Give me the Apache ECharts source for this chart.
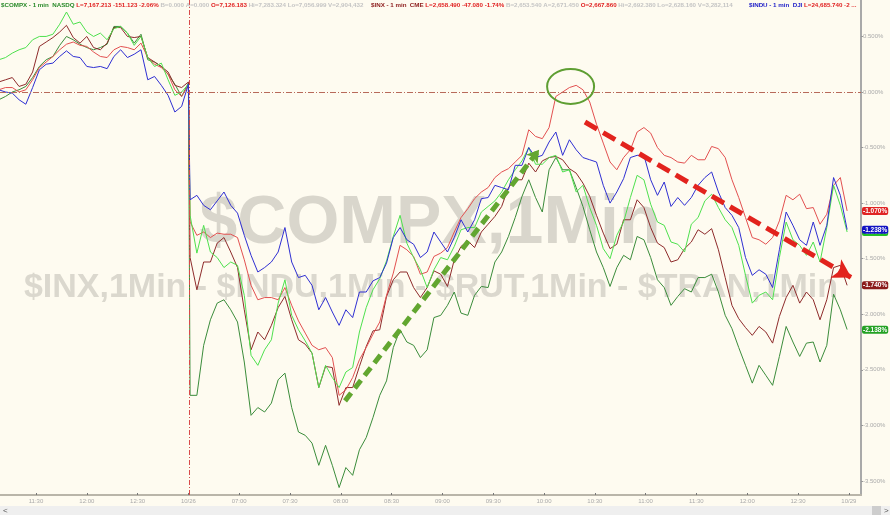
<!DOCTYPE html>
<html><head><meta charset="utf-8">
<script src="https://cdn.jsdelivr.net/npm/echarts@6/dist/echarts.min.js"></script>
<style>html,body{margin:0;padding:0;background:#fefbf0;} #c{width:890px;height:515px;}</style>
</head><body><div id="c"></div>
<script>
// x positions are minutes on a compressed intraday axis; ticks every 30 minutes
const tickMinutes = [30,60,90,120,150,180,210,240,270,300,330,360,390,420,450,480,510];
const tickLabels = ['11:30','12:00','12:30','10/26','07:00','07:30','08:00','08:30','09:00','09:30','10:00','10:30','11:00','11:30','12:00','12:30','10/29'];
const yTicks = [0.5,0,-0.5,-1,-1.5,-2,-2.5,-3,-3.5];
const preStart = 8, postStart = 121, stepMin = 4;
const sessionBreak = 120.4;

// % change, prior session (every 4 min)
const blueSession1 = [0.02,0.00,-0.01,-0.07,-0.11,0.04,0.20,0.25,0.26,0.32,0.37,0.32,0.31,0.23,0.22,0.23,0.21,0.32,0.38,0.31,0.34,0.38,0.11,0.14,0.06,-0.03,-0.18,-0.13,0.07];
const redSession1 = [0.02,0.04,0.04,0.00,0.02,0.11,0.22,0.27,0.32,0.38,0.43,0.45,0.42,0.41,0.36,0.32,0.31,0.38,0.41,0.40,0.38,0.44,0.31,0.25,0.22,0.16,0.02,-0.04,0.06];
const darkRedSession1 = [0.09,0.11,0.13,0.05,0.07,0.18,0.41,0.45,0.49,0.54,0.60,0.49,0.44,0.50,0.40,0.38,0.44,0.58,0.58,0.50,0.49,0.50,0.31,0.27,0.23,0.18,0.06,0.04,0.09];
const lightGreenSession1 = [0.29,0.31,0.35,0.38,0.40,0.47,0.50,0.50,0.52,0.61,0.72,0.61,0.63,0.54,0.50,0.53,0.47,0.57,0.59,0.53,0.42,0.50,0.31,0.23,0.26,0.11,-0.03,0.00,0.07];
const darkGreenSession1 = [-0.07,-0.04,0.00,0.02,0.05,0.13,0.23,0.29,0.32,0.42,0.50,0.47,0.43,0.40,0.38,0.40,0.43,0.59,0.59,0.53,0.44,0.52,0.29,0.27,0.23,0.16,0.07,-0.04,0.08];

// % change, current session (every 4 min)
const blueSession2 = [-0.97,-0.93,-1.02,-1.06,-0.98,-0.90,-1.02,-1.09,-1.29,-1.47,
-1.62,-1.58,-1.53,-1.44,-1.22,-1.53,-1.67,-1.65,-1.74,-1.96,
-1.85,-1.98,-2.10,-1.96,-2.03,-1.80,-1.80,-1.70,-1.67,-1.54,
-1.31,-1.22,-1.33,-1.37,-1.49,-1.44,-1.26,-1.35,-1.44,-1.31,
-1.15,-1.26,-1.15,-0.96,-0.95,-0.84,-0.86,-0.88,-0.66,-0.66,
-0.50,-0.59,-0.57,-0.45,-0.36,-0.57,-0.43,-0.52,-0.59,-0.61,
-0.63,-0.84,-1.00,-0.90,-0.78,-0.59,-0.57,-0.57,-0.79,-0.93,
-0.81,-1.03,-0.95,-1.02,-0.95,-0.84,-0.77,-0.72,-0.90,-1.04,
-1.11,-1.22,-1.49,-1.65,-1.60,-1.64,-1.76,-1.42,-1.08,-1.20,
-1.33,-1.38,-1.17,-1.38,-1.20,-0.77,-0.93,-1.238];
const redSession2 = [-1.17,-1.29,-1.26,-1.31,-1.27,-1.28,-1.28,-1.31,-1.51,-1.74,
-1.87,-1.85,-1.85,-1.87,-1.76,-1.92,-2.06,-2.17,-2.28,-2.32,
-2.30,-2.39,-2.73,-2.68,-2.57,-2.41,-2.30,-2.18,-2.07,-1.83,
-1.63,-1.38,-1.42,-1.48,-1.64,-1.62,-1.48,-1.45,-1.40,-1.26,
-1.13,-1.05,-0.96,-0.90,-0.86,-0.77,-0.72,-0.69,-0.63,-0.57,
-0.34,-0.40,-0.42,-0.32,-0.04,0.00,0.04,0.06,0.02,-0.09,
-0.29,-0.46,-0.63,-0.70,-0.59,-0.52,-0.36,-0.32,-0.37,-0.50,
-0.57,-0.59,-0.63,-0.64,-0.57,-0.61,-0.61,-0.49,-0.51,-0.59,
-0.79,-0.95,-1.13,-1.31,-1.33,-1.37,-1.31,-1.16,-0.93,-0.97,
-0.92,-1.05,-1.04,-1.19,-1.10,-0.84,-0.77,-1.070];
const darkRedSession2 = [-1.49,-1.78,-1.53,-1.53,-1.36,-1.31,-1.44,-1.58,-1.96,-2.32,
-2.16,-2.23,-2.10,-1.94,-1.84,-2.05,-2.23,-2.27,-2.35,-2.66,
-2.47,-2.48,-2.82,-2.66,-2.66,-2.47,-2.29,-2.15,-2.14,-1.84,
-1.69,-1.62,-1.62,-1.76,-1.85,-1.76,-1.61,-1.64,-1.75,-1.51,
-1.39,-1.34,-1.40,-1.26,-1.19,-1.12,-1.03,-0.86,-0.79,-0.79,
-0.64,-0.72,-0.62,-0.59,-0.58,-0.61,-0.69,-0.73,-0.82,-0.94,
-1.11,-1.27,-1.41,-1.37,-1.15,-1.15,-0.97,-1.04,-1.22,-1.36,
-1.40,-1.53,-1.51,-1.41,-1.35,-1.24,-1.28,-1.23,-1.42,-1.67,
-1.92,-2.04,-2.12,-2.19,-2.11,-2.16,-2.26,-2.02,-1.85,-1.74,
-1.90,-1.80,-1.87,-2.05,-1.87,-1.58,-1.56,-1.740];
const lightGreenSession2 = [-1.11,-1.45,-1.20,-1.44,-1.49,-1.58,-1.53,-1.56,-1.83,-2.37,
-2.46,-2.32,-2.23,-1.90,-1.69,-2.01,-2.14,-2.24,-2.35,-2.66,
-2.46,-2.57,-2.66,-2.52,-2.48,-2.16,-1.94,-1.78,-1.68,-1.52,
-1.30,-1.11,-1.36,-1.49,-1.60,-1.76,-1.60,-1.49,-1.51,-1.39,
-1.24,-1.22,-1.22,-1.08,-1.03,-0.98,-0.90,-0.79,-0.70,-0.62,
-0.50,-0.65,-0.65,-0.59,-0.57,-0.72,-0.70,-0.90,-0.84,-1.04,
-1.20,-1.41,-1.50,-1.29,-1.17,-0.95,-0.75,-0.79,-1.01,-1.17,
-1.20,-1.35,-1.37,-1.44,-1.19,-1.13,-0.98,-0.92,-1.04,-1.15,
-1.22,-1.38,-1.65,-1.90,-1.83,-1.80,-1.87,-1.49,-1.17,-1.33,
-1.38,-1.47,-1.35,-1.53,-1.22,-0.84,-1.02,-1.26];
const darkGreenSession2 = [-2.73,-2.73,-2.28,-2.05,-1.90,-1.87,-1.96,-2.07,-2.43,-2.91,
-2.84,-2.88,-2.80,-2.59,-2.53,-2.84,-3.06,-3.09,-3.16,-3.36,
-3.18,-3.36,-3.56,-3.38,-3.45,-3.22,-3.11,-2.93,-2.73,-2.60,
-2.30,-2.14,-2.25,-2.28,-2.39,-2.32,-2.03,-2.01,-1.92,-1.80,
-1.99,-2.01,-1.83,-1.75,-1.76,-1.53,-1.44,-1.30,-1.13,-0.94,
-0.79,-0.95,-1.08,-0.70,-0.59,-0.70,-0.70,-0.86,-1.03,-1.24,
-1.44,-1.58,-1.75,-1.58,-1.47,-1.51,-1.30,-1.33,-1.49,-1.69,
-1.76,-1.92,-1.84,-1.77,-1.80,-1.67,-1.67,-1.64,-1.80,-2.01,
-2.13,-2.30,-2.46,-2.62,-2.46,-2.55,-2.64,-2.38,-2.11,-2.25,
-2.38,-2.26,-2.25,-2.43,-2.28,-1.82,-1.96,-2.138];

// annotation anchors (minute, %)
const greenArrow = [[212.5,-2.78],[327.1,-0.52]];
const redArrow = [[354.2,-0.27],[511.5,-1.67]];
const peakCircle = [345.7, 0.05];

const FONT = 'Arial, "Liberation Sans", sans-serif';
function toPairs(pre, post){
  return pre.map((v,i)=>[preStart+i*stepMin, v]).concat(post.map((v,i)=>[postStart+i*stepMin, v]));
}
function endLabel(vals, bg){
  const last = vals[vals.length-1];
  return {yAxis:last, lineStyle:{color:'rgba(0,0,0,0)', width:0, type:'solid'},
    label:{show:true, position:'end', distance:1, formatter: last.toFixed(3)+'%',
      backgroundColor:bg, color:'#fff', fontSize:6.5, fontWeight:'bold', fontFamily:FONT,
      padding:[1,1,0,1], borderRadius:2}};
}
function mkSeries(name, pre, post, color, labelBg, extra){
  return {type:'line', name, data:toPairs(pre, post), showSymbol:false, symbol:'none',
    lineStyle:{width:1, color}, itemStyle:{color}, clip:true, animation:false,
    markLine:{silent:true, symbol:'none', animation:false, data:[endLabel(post,labelBg)].concat(extra||[])}};
}

const chart = echarts.init(document.getElementById('c'));
const refLines = [
  {yAxis:0, lineStyle:{color:'#b86a5a', type:[6,2,1,2], width:1}, label:{show:false}},
  {xAxis:sessionBreak, lineStyle:{color:'#d84a4a', type:[5,2,1,2], width:1}, label:{show:false}}
];
const arrows = [
  [{coord:greenArrow[0], symbol:'none'},{coord:greenArrow[1], symbol:'arrow', symbolSize:[11,12],
    lineStyle:{color:'#62a630', width:5, type:[10,6]}, label:{show:false}}],
  [{coord:redArrow[0], symbol:'none'},{coord:redArrow[1], symbol:'arrow', symbolSize:[16,18],
    lineStyle:{color:'#e2231d', width:5, type:[14,7]}, label:{show:false}}]
];
arrows.forEach(a=>{a[0].lineStyle=a[1].lineStyle; a[0].label={show:false};});

chart.setOption({
  backgroundColor:'#fefbf0',
  animation:false,
  grid:{left:0, right:29, top:0, bottom:20},
  xAxis:{type:'value', min:8.74, max:517.2,
    axisLine:{onZero:false, lineStyle:{color:'#b9b5a9', width:2}},
    axisTick:{customValues:tickMinutes, inside:true, length:2, lineStyle:{color:'#777'}},
    axisLabel:{customValues:tickMinutes, formatter:v=>tickLabels[tickMinutes.indexOf(v)],
      fontSize:6, color:'#aaa', margin:3, fontFamily:FONT},
    splitLine:{show:false}},
  yAxis:{type:'value', position:'right', min:-3.627, max:0.828,
    axisLine:{show:true, onZero:false, lineStyle:{color:'#a9a9a9', width:2}},
    axisTick:{show:true, customValues:yTicks, length:2, lineStyle:{color:'#999'}},
    axisLabel:{customValues:yTicks, formatter:v=>v.toFixed(3)+'%', fontSize:6, color:'#aaa', margin:2, fontFamily:FONT},
    splitLine:{show:false}},
  series:[
    mkSeries('$RUT', darkGreenSession1, darkGreenSession2, '#3b8c3b', '#23a123', refLines),
    mkSeries('$INX', darkRedSession1, darkRedSession2, '#8e2b2b', '#8b1a1a'),
    mkSeries('$TRAN', redSession1, redSession2, '#e25050', '#e02424'),
    mkSeries('$COMPX', lightGreenSession1, lightGreenSession2, '#4ee04e', '#25c025'),
    mkSeries('$INDU', blueSession1, blueSession2, '#2f2fd2', '#1212c2', arrows)
  ]
});

const c = chart.convertToPixel({gridIndex:0}, peakCircle);
const tok = (fill)=>({fill, fontSize:6.2, fontWeight:'bold', fontFamily:FONT});
const rich = {
  g:tok('#2a8a2a'), r:tok('#e02020'), s:tok('#c4c4c4'), d:tok('#8b1a1a'), b:tok('#2222c8')
};
function hdr(id, x, text){
  return {type:'text', id, x, y:5, z:10, style:{text, rich, fontSize:6.2, fontWeight:'bold', fontFamily:FONT,
    textVerticalAlign:'middle', fill:'#999'}};
}
chart.setOption({graphic:{elements:[
  {type:'text', id:'wm1', x:430, y:224, z:0, style:{text:'$COMPX,1Min', fontSize:68, fontWeight:'bold', fontFamily:FONT,
    fill:'#d9d6cc', textAlign:'center', textVerticalAlign:'middle'}},
  {type:'text', id:'wm2', x:431, y:288, z:0, style:{text:'$INX,1Min - $INDU,1Min - $RUT,1Min - $TRAN,1Min', fontSize:34, fontWeight:'bold', fontFamily:FONT,
    fill:'#dbd8ce', textAlign:'center', textVerticalAlign:'middle'}},
  hdr('h1', 1, '{g|$COMPX - 1 min  NASDQ} {r|L=7,167.213 -151.123 -2.06%} {s|B=0.000 A=0.000} {r|O=7,126.183} {s|Hi=7,283.324 Lo=7,056.999 V=2,904,432}'),
  hdr('h2', 371, '{d|$INX - 1 min  CME} {r|L=2,658.490 -47.080 -1.74%} {s|B=2,653.540 A=2,671.450} {r|O=2,667.860} {s|Hi=2,692.380 Lo=2,628.160 V=3,282,114}'),
  hdr('h3', 749, '{b|$INDU - 1 min  DJI} {r|L=24,685.740 -2 ...}'),
  {type:'ellipse', id:'peak', z:20, shape:{cx:c[0], cy:c[1], rx:23.5, ry:17.5},
    style:{fill:'none', stroke:'#5e9e32', lineWidth:2}},
  {type:'rect', id:'sb', z:5, shape:{x:0, y:506, width:890, height:9}, style:{fill:'#efefef'}},
  {type:'rect', id:'thumb', z:6, shape:{x:872, y:506, width:9, height:9}, style:{fill:'#cdcdcd'}},
  {type:'text', id:'lt', x:3, y:510.5, z:7, style:{text:'<', fontSize:8, fontFamily:FONT, fill:'#555', textVerticalAlign:'middle'}},
  {type:'text', id:'gt', x:884, y:510.5, z:7, style:{text:'>', fontSize:8, fontFamily:FONT, fill:'#555', textVerticalAlign:'middle'}}
]}});
</script></body></html>
